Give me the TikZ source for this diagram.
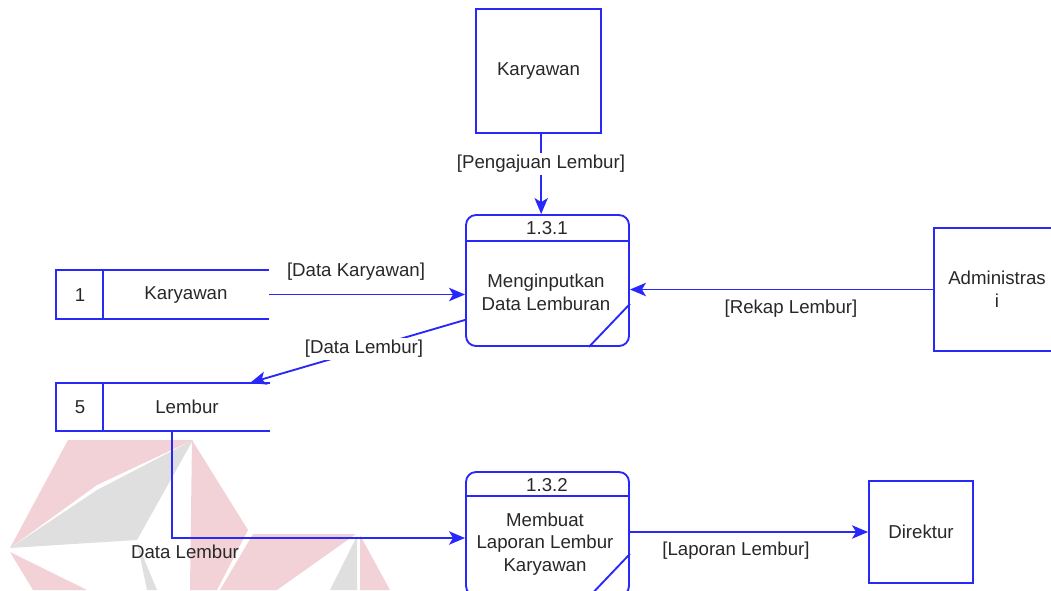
\documentclass[tikz,border=0pt]{standalone}
\usepackage{fontspec}
\setmainfont{Liberation Sans}
\usetikzlibrary{arrows.meta,fit,calc}
\definecolor{dfdblue}{RGB}{40,40,250}
\definecolor{wmred}{RGB}{242,210,214}
\definecolor{wmgray}{RGB}{223,223,223}
\definecolor{txt}{RGB}{40,40,40}
\begin{document}
\begin{tikzpicture}[x=0.75pt,y=-0.75pt,
  every node/.style={font=\fontsize{14}{17}\selectfont, text=txt},
  shape line/.style={draw=dfdblue, line width=1.4pt},
  entity/.style={shape line, rectangle, inner sep=0pt, align=center},
  process/.style={shape line, rectangle, rounded corners=7.5pt, inner sep=0pt},
  store/.style={rectangle, inner sep=0pt},
  flow/.style={draw=dfdblue, line width=1.4pt, -{Stealth[length=12pt,width=10pt,inset=3pt]}},
  flowlabel/.style={fill=white, inner sep=1.5pt}]
\useasboundingbox (0,0) rectangle (1051,590);
\clip (0,0) rectangle (1051,590);

% background logo mark
\fill[wmred] (10,548) -- (68,440) -- (193,440) -- (97,485) -- cycle;
\fill[wmgray] (10,548) -- (97,490) -- (193,440) -- (137,540) -- cycle;
\fill[wmgray] (137,542) -- (157,590) -- (147,590) -- cycle;
\fill[wmred] (192,440) -- (248,530) -- (217,590) -- (190,590) -- cycle;
\fill[wmred] (10,552) -- (87,590) -- (33,590) -- cycle;
\fill[wmred] (253,534) -- (356,534) -- (277,590) -- (220,590) -- cycle;
\fill[wmgray] (357,536) -- (330,590) -- (357,590) -- cycle;
\fill[wmred] (360,535) -- (390,590) -- (360,590) -- cycle;

% external entities
\node[entity, minimum width=93.75pt, minimum height=93pt] (kar) at (538.5,71) {Karyawan};
\node[entity, minimum width=94.5pt, minimum height=92.25pt] (adm) at (997,289.5) {Administras\\i};
\node[entity, minimum width=78pt, minimum height=76.5pt] (dir) at (921,532) {Direktur};

% process 1.3.1
\node[process, fit={(466,215) (629,346)}] (p1) {};
\draw[shape line] ($(p1.north west)+(0,27)$) -- ($(p1.north east)+(0,27)$);
\draw[shape line] ($(p1.south east)+(-41,0)$) -- ($(p1.south east)+(0,-43)$);
\node (p1id) at (547,228) {1.3.1};
\node[align=center] (p1txt) at (546,292) {Menginputkan\\Data Lemburan};

% process 1.3.2
\node[process, fit={(466,472) (629,596)}] (p2) {};
\draw[shape line] ($(p2.north west)+(0,25)$) -- ($(p2.north east)+(0,25)$);
\draw[shape line] ($(p2.south east)+(-41,0)$) -- ($(p2.south east)+(0,-43)$);
\node (p2id) at (547,485) {1.3.2};
\node[align=center] (p2txt) at (545,544) {Membuat\\Laporan Lembur\\Karyawan};

% data stores
\node[store, fit={(56,270) (269,319)}] (ds1) {};
\draw[shape line] (ds1.north east) -- (ds1.north west) -- (ds1.south west) -- (ds1.south east);
\draw[shape line] ($(ds1.north west)+(47,0)$) -- ($(ds1.south west)+(47,0)$);
\node (ds1id) at (80,295) {1};
\node (ds1name) at (186,295) {Karyawan};

\node[store, fit={(56,383) (270,431)}] (ds5) {};
\draw[shape line] (ds5.north east) -- (ds5.north west) -- (ds5.south west) -- (ds5.south east);
\draw[shape line] ($(ds5.north west)+(47,0)$) -- ($(ds5.south west)+(47,0)$);
\node (ds5id) at (80,407) {5};
\node (ds5name) at (187,407) {Lembur};

% data flows
\draw[flow] ([xshift=2pt]kar.south) -- ([xshift=2pt]kar.south |- p1.north);
\node[flowlabel] (l1) at (541,164) {[Pengajuan Lembur]};

\draw[flow] (ds1.east) -- (ds1.east -| p1.west);
\node (l2) at (356,272) {[Data Karyawan]};

\draw[flow] (adm.west) -- (adm.west -| p1.east);
\node (l3) at (791,309) {[Rekap Lembur]};

\draw[flow] ($(p1.south west)+(0,-27)$) -- ($(ds5.north east)+(-20,0)$);
\node[flowlabel] (l4) at (364,349) {[Data Lembur]};

\draw[flow] ($(ds5.south west)+(116,0)$) |- ($(p2.west)+(0,4)$);
\node (l5) at (185,552) {Data Lembur};

\draw[flow] (p2.east |- dir.west) -- (dir.west);
\node (l6) at (736,551) {[Laporan Lembur]};
\end{tikzpicture}
\end{document}
